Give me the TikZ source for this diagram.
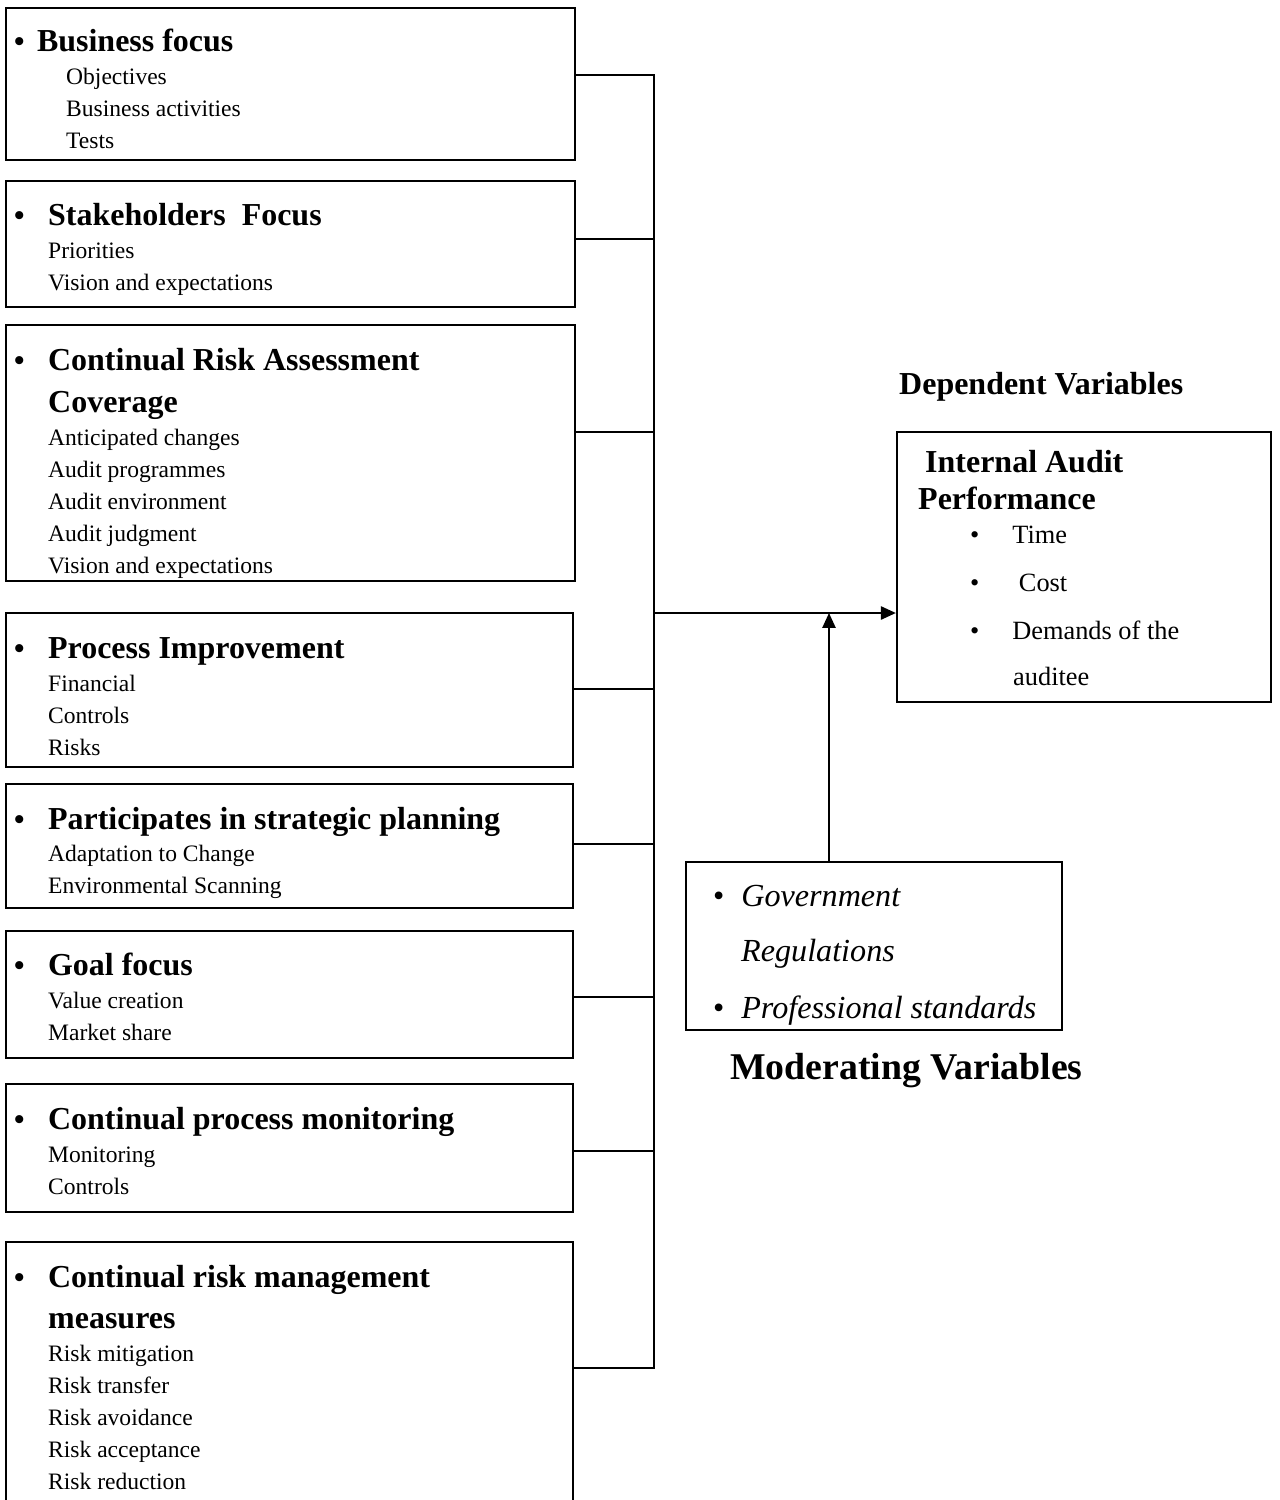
\documentclass[tikz,border=0pt]{standalone}
\usepackage{fontspec}
\setmainfont{Liberation Serif}
\usetikzlibrary{arrows.meta}
\usetikzlibrary{fit}

\tikzset{
  box/.style={draw, line width=1.3pt, inner sep=0pt},
  head/.style={inner sep=0pt, anchor=base west, font=\fontsize{18.2}{22}\selectfont\bfseries},
  item/.style={inner sep=0pt, anchor=base west, font=\fontsize{13.4}{16}\selectfont},
  iapitem/.style={inner sep=0pt, anchor=base west, font=\fontsize{15}{18}\selectfont},
  moditem/.style={inner sep=0pt, anchor=base west, font=\fontsize{18.3}{22}\selectfont\itshape},
  link/.style={line width=1.1pt},
  arr/.style={line width=1.1pt, -{Triangle[length=8.5pt,width=7.5pt]}},
}
\newcommand{\bul}[1]{\makebox[#1][l]{\raisebox{0.3pt}{\fontsize{17}{17}\selectfont\textbullet}}}

\begin{document}
\begin{tikzpicture}[x=0.02cm, y=-0.02cm]
  \useasboundingbox (0,0) rectangle (1280,1500);
  \clip (0,0) rectangle (1280,1500);

  % independent variables
  \node[box, fit={(6,8) (575,160)}] (b1) {};
  \node[head] (h1) at ([shift={(9,45)}]b1.north west) {\bul{13pt}Business focus};
  \foreach \t [count=\i] in {Objectives, Business activities, Tests}
    \node[item] (i1-\i) at ([shift={(61,{46+32*\i})}]b1.north west) {\t};

  \node[box, fit={(6,181) (575,307)}] (b2) {};
  \node[head] (h2) at ([shift={(9,46)}]b2.north west) {\bul{19.3pt}Stakeholders\ \ Focus};
  \foreach \t [count=\i] in {Priorities, Vision and expectations}
    \node[item] (i2-\i) at ([shift={(43,{47+32*\i})}]b2.north west) {\t};

  \node[box, fit={(6,325) (575,581)}] (b3) {};
  \node[head] (h3) at ([shift={(9,47)}]b3.north west) {\bul{19.3pt}Continual Risk Assessment};
  \node[head] (h3b) at ([shift={(43,89)}]b3.north west) {Coverage};
  \foreach \t [count=\i] in {Anticipated changes, Audit programmes, Audit environment, Audit judgment, Vision and expectations}
    \node[item] (i3-\i) at ([shift={(43,{90+32*\i})}]b3.north west) {\t};

  \node[box, fit={(6,613) (573,767)}] (b4) {};
  \node[head] (h4) at ([shift={(9,47)}]b4.north west) {\bul{19.3pt}Process Improvement};
  \foreach \t [count=\i] in {Financial, Controls, Risks}
    \node[item] (i4-\i) at ([shift={(43,{48+32*\i})}]b4.north west) {\t};

  \node[box, fit={(6,784) (573,908)}] (b5) {};
  \node[head] (h5) at ([shift={(9,47)}]b5.north west) {\bul{19.3pt}Participates in strategic planning};
  \foreach \t [count=\i] in {Adaptation to Change, Environmental Scanning}
    \node[item] (i5-\i) at ([shift={(43,{47+32*\i})}]b5.north west) {\t};

  \node[box, fit={(6,931) (573,1058)}] (b6) {};
  \node[head] (h6) at ([shift={(9,46)}]b6.north west) {\bul{19.3pt}Goal focus};
  \foreach \t [count=\i] in {Value creation, Market share}
    \node[item] (i6-\i) at ([shift={(43,{47+32*\i})}]b6.north west) {\t};

  \node[box, fit={(6,1084) (573,1212)}] (b7) {};
  \node[head] (h7) at ([shift={(9,47)}]b7.north west) {\bul{19.3pt}Continual process monitoring};
  \foreach \t [count=\i] in {Monitoring, Controls}
    \node[item] (i7-\i) at ([shift={(43,{48+32*\i})}]b7.north west) {\t};

  \node[box, fit={(6,1242) (573,1530)}] (b8) {};
  \node[head] (h8) at ([shift={(9,47)}]b8.north west) {\bul{19.3pt}Continual risk management};
  \node[head] (h8b) at ([shift={(43,88)}]b8.north west) {measures};
  \foreach \t [count=\i] in {Risk mitigation, Risk transfer, Risk avoidance, Risk acceptance, Risk reduction}
    \node[item] (i8-\i) at ([shift={(43,{89+32*\i})}]b8.north west) {\t};

  % dependent variable
  \node[box, fit={(897,432) (1271,702)}] (iap) {};
  \node[head] (dv) at ([shift={(3,-36)}]iap.north west) {Dependent Variables};
  \node[head] (t1) at ([shift={(29,42)}]iap.north west) {Internal Audit};
  \node[head] (t2) at ([shift={(22,79)}]iap.north west) {Performance};
  \node[iapitem] (p1) at ([shift={(74,113)}]iap.north west) {\makebox[24pt][l]{\textbullet}Time};
  \node[iapitem] (p2) at ([shift={(74,161)}]iap.north west) {\makebox[24pt][l]{\textbullet}\ Cost};
  \node[iapitem] (p3) at ([shift={(74,209)}]iap.north west) {\makebox[24pt][l]{\textbullet}Demands of the};
  \node[iapitem] (p4) at ([shift={(117,255)}]iap.north west) {auditee};

  % moderating variables
  \node[box, fit={(686,862) (1062,1030)}] (mod) {};
  \node[moditem] (m1) at ([shift={(28,46)}]mod.north west) {\makebox[16pt][l]{\textup{\textbullet}}Government};
  \node[moditem] (m2) at ([shift={(56,101)}]mod.north west) {Regulations};
  \node[moditem] (m3) at ([shift={(28,158)}]mod.north west) {\makebox[16pt][l]{\textup{\textbullet}}Professional standards};
  \node[inner sep=0pt, anchor=base west, font=\fontsize{21.5}{26}\selectfont\bfseries] (mv)
    at ([shift={(45,48)}]mod.south west) {Moderating Variables};

  % connectors
  \coordinate (bus) at (654,613);
  \coordinate (join) at (829,613);
  \foreach \b/\d in {b1/68, b2/59, b3/108, b4/77, b5/61, b6/67, b7/68, b8/127}
    \draw[link] (\b.north east) ++(0,\d) -| (bus);
  \draw[arr] (bus) -- (bus -| iap.west);
  \draw[arr] (mod.north -| join) -- (join);
\end{tikzpicture}
\end{document}
